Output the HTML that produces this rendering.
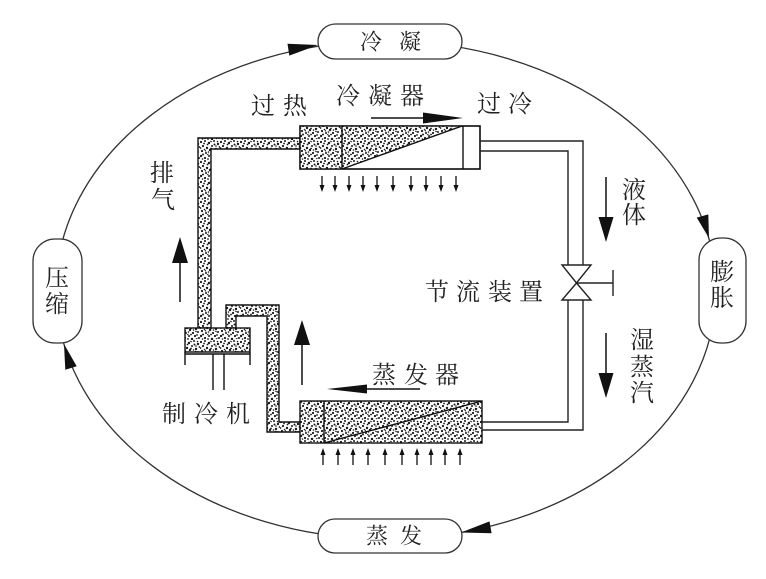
<!DOCTYPE html>
<html><head><meta charset="utf-8"><style>
html,body{margin:0;padding:0;background:#fff;}
svg{display:block;}
text{font-family:"Liberation Serif","Noto Serif CJK SC","Noto Sans CJK SC",serif;fill:#222;text-anchor:middle;dominant-baseline:central;}
</style></head><body>
<svg width="766" height="579" viewBox="0 0 766 579" xmlns="http://www.w3.org/2000/svg">
<defs>
<pattern id="st" width="20" height="20" patternUnits="userSpaceOnUse">
<rect width="20" height="20" fill="#fff"/>
<g fill="#1a1a1a">
<circle cx="1" cy="2" r="1.1"/><circle cx="5" cy="1" r="1"/><circle cx="9" cy="3" r="1.2"/><circle cx="14" cy="1" r="1"/><circle cx="18" cy="4" r="1.2"/>
<circle cx="3" cy="6" r="1.1"/><circle cx="7" cy="8" r="1.2"/><circle cx="12" cy="6" r="1"/><circle cx="16" cy="9" r="1.2"/><circle cx="2" cy="11" r="1.1"/>
<circle cx="6" cy="13" r="1"/><circle cx="10" cy="10" r="1.2"/><circle cx="13" cy="13" r="1.1"/><circle cx="18" cy="12" r="1"/><circle cx="1" cy="16" r="1.2"/>
<circle cx="5" cy="18" r="1.1"/><circle cx="9" cy="16" r="1"/><circle cx="12" cy="19" r="1.2"/><circle cx="15" cy="16" r="1.1"/><circle cx="19" cy="18" r="1"/>
<circle cx="4" cy="3.5" r="0.9"/><circle cx="11" cy="8.5" r="0.9"/><circle cx="17" cy="15" r="0.9"/><circle cx="8" cy="19" r="0.9"/><circle cx="14.5" cy="4.5" r="1"/>
<circle cx="0.5" cy="8" r="0.9"/><circle cx="7.5" cy="4.5" r="0.9"/><circle cx="19.5" cy="7" r="0.9"/><circle cx="3" cy="14.5" r="1"/><circle cx="11" cy="14.5" r="0.9"/>
<circle cx="16" cy="6" r="0.8"/><circle cx="8.5" cy="12" r="0.8"/><circle cx="4.5" cy="9.5" r="0.8"/><circle cx="13.5" cy="10" r="0.8"/><circle cx="17.5" cy="1.5" r="0.8"/><circle cx="2.5" cy="19" r="0.8"/>
</g>
<g stroke="#1a1a1a" stroke-width="0.9">
<line x1="15" y1="11" x2="17" y2="12"/><line x1="5" y1="10" x2="6" y2="11.5"/><line x1="10" y1="1" x2="12" y2="2"/><line x1="16" y1="19" x2="17.5" y2="18"/><line x1="7" y1="15" x2="8.5" y2="14"/>
</g>
</pattern>
</defs>

<!-- outer cycle -->
<ellipse cx="386" cy="290" rx="330" ry="249" fill="none" stroke="#333" stroke-width="1.3"/>
<g fill="#111">
<polygon points="318,45 289.3,55.6 287.5,43.8"/>
<polygon points="709,238 708.3,214.4 696.7,217.6"/>
<polygon points="461,532.5 491.6,533.2 489.5,521.4"/>
<polygon points="64,344 76.7,366.3 65.3,369.7"/>
</g>
<g fill="#fff" stroke="#333" stroke-width="1.3">
<rect x="318" y="24" width="144" height="35" rx="17.5"/>
<rect x="318" y="519" width="144" height="34" rx="17"/>
<rect x="33" y="239" width="49" height="104" rx="22"/>
<rect x="699" y="238" width="47" height="105" rx="22"/>
</g>
<g font-size="22">
<text x="371" y="42">冷</text><text x="410" y="42">凝</text>
<text x="377" y="536">蒸</text><text x="411" y="536">发</text>
</g>
<g font-size="24">
<text x="57" y="279">压</text><text x="57" y="305">缩</text>
<text x="722" y="273">膨</text><text x="722" y="299">胀</text>
</g>

<!-- discharge pipe -->
<polygon points="198,328 198,138 300,138 300,149 211,149 211,328" fill="url(#st)" stroke="#111" stroke-width="1.4"/>
<!-- suction pipe -->
<polygon points="226,328 226,305 279,305 279,422 300,422 300,432 267,432 267,316 236,316 236,328" fill="url(#st)" stroke="#111" stroke-width="1.4"/>
<!-- compressor -->
<rect x="185" y="328" width="65" height="24" fill="url(#st)" stroke="#111" stroke-width="1.4"/>
<g stroke="#111" stroke-width="1.4" fill="none">
<line x1="185" y1="352" x2="185" y2="365"/><line x1="250" y1="352" x2="250" y2="365"/>
<line x1="185" y1="354" x2="250" y2="354"/>
<line x1="213" y1="354" x2="213" y2="390"/><line x1="224" y1="354" x2="224" y2="390"/>
</g>

<!-- condenser -->
<rect x="300" y="126" width="180" height="43" fill="#fff" stroke="#111" stroke-width="1.4"/>
<rect x="300" y="126" width="42" height="43" fill="url(#st)"/>
<polygon points="342,126 462,126 342,169" fill="url(#st)"/>
<g stroke="#111" stroke-width="1.4" fill="none">
<rect x="300" y="126" width="180" height="43"/>
<line x1="342" y1="126" x2="342" y2="169"/>
<line x1="463" y1="126" x2="463" y2="169"/>
<line x1="342" y1="169" x2="462" y2="126"/>
</g>

<!-- evaporator -->
<rect x="300" y="401" width="182" height="42" fill="url(#st)" stroke="#111" stroke-width="1.4"/>
<g stroke="#111" stroke-width="1.4">
<line x1="324" y1="401" x2="324" y2="443"/>
<line x1="324" y1="443" x2="482" y2="401"/>
</g>

<!-- liquid line -->
<g stroke="#222" stroke-width="1.4" fill="none">
<polyline points="480,141 583,141 583,265"/>
<polyline points="480,151 568,151 568,265"/>
<polyline points="583,300 583,430 482,430"/>
<polyline points="568,300 568,422 482,422"/>
<polygon points="562,265 591,265 576.5,283" fill="#fff"/>
<polygon points="562,300 591,300 576.5,283" fill="#fff"/>
<line x1="576.5" y1="283" x2="613" y2="283"/>
<line x1="613" y1="270" x2="613" y2="296"/>
</g>

<!-- flow arrows -->
<g stroke="#111" stroke-width="1.5">
<line x1="371" y1="118" x2="426" y2="118"/>
<line x1="365" y1="389" x2="420" y2="389"/>
<line x1="180" y1="302" x2="180" y2="260"/>
<line x1="302" y1="385" x2="302" y2="343"/>
<line x1="606" y1="177" x2="606" y2="220"/>
<line x1="606" y1="333" x2="606" y2="376"/>
</g>
<g fill="#111">
<polygon points="423,112.5 463,118 423,123.5"/>
<polygon points="367,384.5 327,389 367,393.5"/>
<polygon points="172,263 180,237 188,263"/>
<polygon points="294,345 302,320 310,345"/>
<polygon points="598.5,217 606,242 613.5,217"/>
<polygon points="598.5,373 606,398 613.5,373"/>
</g>

<!-- small heat arrows -->
<g stroke="#111" stroke-width="1.3">
<line x1="322" y1="176" x2="322" y2="187"/><line x1="335" y1="176" x2="335" y2="187"/><line x1="349" y1="176" x2="349" y2="187"/><line x1="363" y1="176" x2="363" y2="187"/><line x1="377" y1="176" x2="377" y2="187"/>
<line x1="393" y1="176" x2="393" y2="187"/><line x1="411" y1="176" x2="411" y2="187"/><line x1="426" y1="176" x2="426" y2="187"/><line x1="441" y1="176" x2="441" y2="187"/><line x1="456" y1="176" x2="456" y2="187"/>
<line x1="323" y1="453" x2="323" y2="465"/><line x1="338" y1="453" x2="338" y2="465"/><line x1="353" y1="453" x2="353" y2="465"/><line x1="368" y1="453" x2="368" y2="465"/><line x1="385" y1="453" x2="385" y2="465"/>
<line x1="402" y1="453" x2="402" y2="465"/><line x1="417" y1="453" x2="417" y2="465"/><line x1="431" y1="453" x2="431" y2="465"/><line x1="445" y1="453" x2="445" y2="465"/><line x1="460" y1="453" x2="460" y2="465"/>
</g>
<g fill="#111">
<polygon points="319.5,185 322,192 324.5,185"/><polygon points="332.5,185 335,192 337.5,185"/><polygon points="346.5,185 349,192 351.5,185"/><polygon points="360.5,185 363,192 365.5,185"/><polygon points="374.5,185 377,192 379.5,185"/>
<polygon points="390.5,185 393,192 395.5,185"/><polygon points="408.5,185 411,192 413.5,185"/><polygon points="423.5,185 426,192 428.5,185"/><polygon points="438.5,185 441,192 443.5,185"/><polygon points="453.5,185 456,192 458.5,185"/>
<polygon points="320.5,455 323,448 325.5,455"/><polygon points="335.5,455 338,448 340.5,455"/><polygon points="350.5,455 353,448 355.5,455"/><polygon points="365.5,455 368,448 370.5,455"/><polygon points="382.5,455 385,448 387.5,455"/>
<polygon points="399.5,455 402,448 404.5,455"/><polygon points="414.5,455 417,448 419.5,455"/><polygon points="428.5,455 431,448 433.5,455"/><polygon points="442.5,455 445,448 447.5,455"/><polygon points="457.5,455 460,448 462.5,455"/>
</g>

<!-- labels -->
<g font-size="24">
<text x="263" y="107">过</text><text x="295" y="107">热</text>
<text x="348" y="97">冷</text><text x="380" y="97">凝</text><text x="412" y="97">器</text>
<text x="489" y="105">过</text><text x="520" y="105">冷</text>
<text x="162" y="174">排</text><text x="163" y="201">气</text>
<text x="174" y="415">制</text><text x="206" y="415">冷</text><text x="238" y="415">机</text>
<text x="437" y="293">节</text><text x="468" y="293">流</text><text x="500" y="293">装</text><text x="531" y="293">置</text>
<text x="634" y="191">液</text><text x="634" y="216">体</text>
<text x="642" y="341">湿</text><text x="642" y="368">蒸</text><text x="642" y="394">汽</text>
<text x="384" y="376">蒸</text><text x="416" y="376">发</text><text x="447" y="376">器</text>
</g>
</svg>
</body></html>
